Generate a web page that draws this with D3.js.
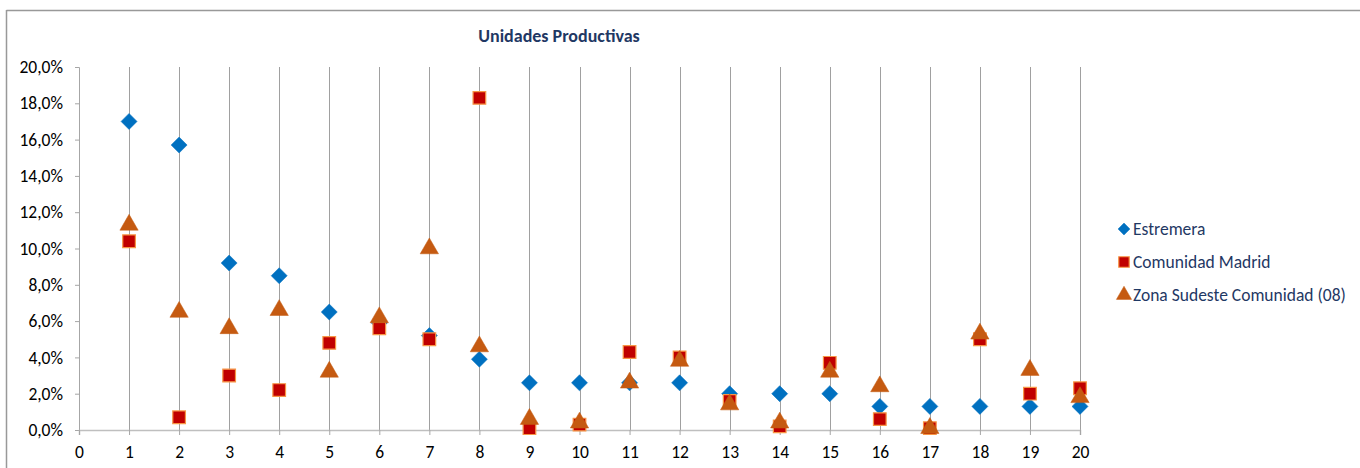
<!DOCTYPE html>
<html><head><meta charset="utf-8">
<script src="https://cdn.jsdelivr.net/npm/d3@7/dist/d3.min.js"></script>
<style>body{margin:0;background:#fff;} svg{display:block;font-family:Calibri,Carlito,"Open Sans",sans-serif;}</style>
</head><body><svg id="c" width="1360" height="468"></svg>
<script>
const categories = d3.range(1, 21);
const xTicks = d3.range(0, 21);
const yTicks = [0, 2, 4, 6, 8, 10, 12, 14, 16, 18, 20];
const seriesNames = ["Estremera", "Comunidad Madrid", "Zona Sudeste Comunidad (08)"];
const estremera = [17.0, 15.7, 9.2, 8.5, 6.5, 5.9, 5.2, 3.9, 2.6, 2.6, 2.6, 2.6, 2.0, 2.0, 2.0, 1.3, 1.3, 1.3, 1.3, 1.3];
const madrid = [10.4, 0.7, 3.0, 2.2, 4.8, 5.6, 5.0, 18.3, 0.1, 0.3, 4.3, 4.0, 1.6, 0.2, 3.7, 0.6, 0.1, 5.0, 2.0, 2.3];
const sudeste = [11.3, 6.5, 5.6, 6.6, 3.2, 6.2, 10.0, 4.6, 0.6, 0.4, 2.6, 3.8, 1.4, 0.4, 3.2, 2.4, 0.1, 5.3, 3.3, 1.8];

const FONT = "Calibri,Carlito,'Open Sans',sans-serif";
const svg = d3.select("#c");
const x = d3.scaleLinear().domain([0, 20]).range([79, 1080]);
const y = d3.scaleLinear().domain([0, 20]).range([430, 67]);
const fmt = v => v.toFixed(1).replace(".", ",") + "%";

// chart border (top & left)
svg.append("line").attr("x1", 6.5).attr("x2", 1360).attr("y1", 10.5).attr("y2", 10.5).attr("stroke", "#999").attr("stroke-width", 1.5);
svg.append("line").attr("x1", 6.5).attr("x2", 6.5).attr("y1", 10).attr("y2", 468).attr("stroke", "#999").attr("stroke-width", 1.5);

// vertical gridlines
svg.append("g").selectAll("line").data(categories).join("line")
  .attr("x1", d => Math.round(x(d)) + 0.5).attr("x2", d => Math.round(x(d)) + 0.5)
  .attr("y1", y(20)).attr("y2", y(0))
  .attr("stroke", "#a0a0a0").attr("stroke-width", 1);

// y axis
const ya = svg.append("g").attr("transform", `translate(${x(0)},0)`)
  .call(d3.axisLeft(y).tickValues(yTicks).tickFormat(fmt).tickSize(4).tickPadding(12));
ya.select(".domain").attr("stroke", "#a6a6a6");
ya.selectAll(".tick line").attr("stroke", "#a6a6a6");
ya.selectAll("text").attr("font-size", 17.5).attr("fill", "#000").attr("font-family", FONT);

// x axis
const xa = svg.append("g").attr("transform", `translate(0,${y(0)})`)
  .call(d3.axisBottom(x).tickValues(xTicks).tickFormat(d3.format("d")).tickSize(5).tickPadding(11));
xa.select(".domain").attr("stroke", "#bfbfbf").attr("stroke-width", 1.5);
xa.selectAll(".tick line").attr("stroke", "#a6a6a6");
xa.selectAll("text").attr("font-size", 17.5).attr("fill", "#000").attr("font-family", FONT);

// title
svg.append("text").attr("x", 559).attr("y", 42).attr("text-anchor", "middle")
  .attr("font-family", FONT).attr("font-size", 18).attr("font-weight", "bold").attr("fill", "#1f3864").text("Unidades Productivas");

const diamond = d3.symbol().type(d3.symbolSquare).size(128);
const square = d3.symbol().type(d3.symbolSquare).size(160);
const tri = d3.symbol().type(d3.symbolTriangle).size(145);

const styles = [
  {data: estremera, path: diamond, rot: 45, fill: "#0070c0", stroke: "#0070c0", sw: 0.5},
  {data: madrid, path: square, rot: 0, fill: "#c00000", stroke: "#f79646", sw: 1.2},
  {data: sudeste, path: tri, rot: 0, fill: "#c55a11", stroke: "#c55a11", sw: 0.5}
];

styles.forEach(s => {
  svg.append("g").selectAll("path").data(categories).join("path")
    .attr("d", s.path())
    .attr("transform", (d, i) => `translate(${x(d)},${y(s.data[i])}) rotate(${s.rot})`)
    .attr("fill", s.fill).attr("stroke", s.stroke).attr("stroke-width", s.sw);
});

// legend
const lg = svg.append("g");
const legendY = [229, 262, 295];
const legendSym = [
  d3.symbol().type(d3.symbolSquare).size(70),
  d3.symbol().type(d3.symbolSquare).size(110),
  d3.symbol().type(d3.symbolTriangle).size(100)
];
seriesNames.forEach((n, i) => {
  lg.append("path").attr("d", legendSym[i]())
    .attr("transform", `translate(1124,${legendY[i]}) rotate(${styles[i].rot})`)
    .attr("fill", styles[i].fill).attr("stroke", styles[i].stroke).attr("stroke-width", styles[i].sw);
  lg.append("text").attr("x", 1133).attr("y", legendY[i]).attr("dy", "0.35em")
    .attr("font-family", FONT).attr("font-size", 17.5).attr("fill", "#1f3864").text(n);
});
</script></body></html>
